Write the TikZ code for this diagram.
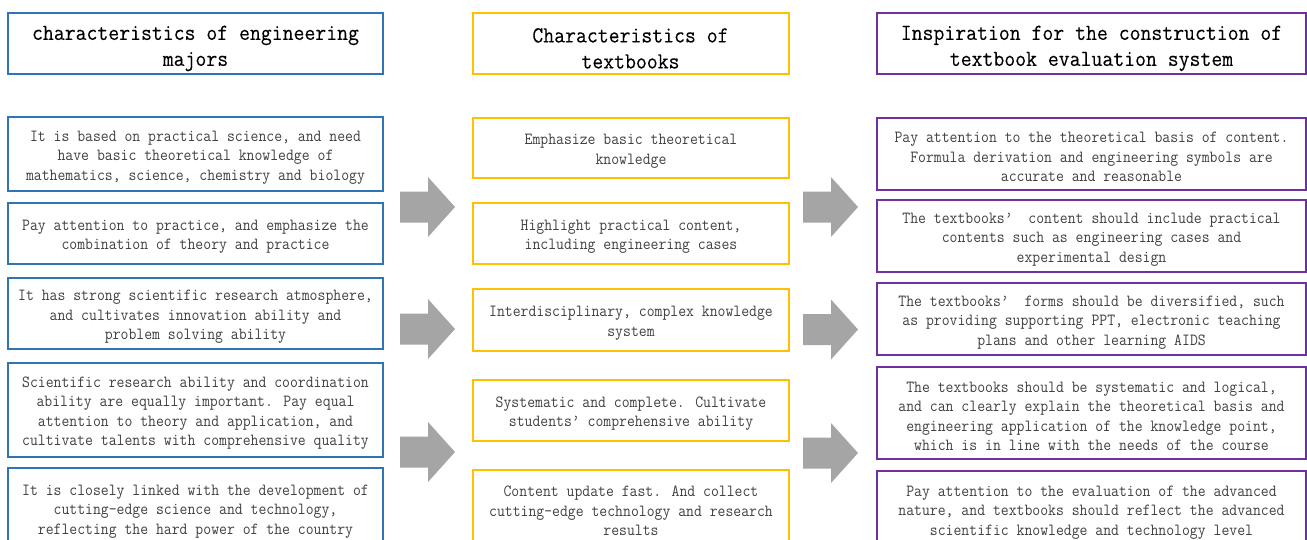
\documentclass[tikz,border=0pt]{standalone}
\usepackage{fontspec}
\newfontfamily\simfont[FakeStretch=0.9]{Latin Modern Mono}
\newfontfamily\simtitle[FakeStretch=0.92,FakeBold=0.15]{Latin Modern Mono}
\definecolor{cblue}{HTML}{2E75B6}
\definecolor{cgold}{HTML}{FFC000}
\definecolor{cpurple}{HTML}{7030A0}
\definecolor{carrow}{HTML}{A5A5A5}
\definecolor{bodytext}{HTML}{404040}
\newcommand\bst{\rule{0pt}{17pt}}
\newcommand\tst{\rule{0pt}{24pt}}
\tikzset{
  box/.style={draw=#1, line width=2pt, rectangle, inner sep=0pt, align=center, fill=white},
  titlebox/.style={box=#1, font=\simtitle\fontsize{23}{26}\selectfont, text=black},
  bodybox/.style={box=#1, font=\simfont\fontsize{17}{19.5}\selectfont, text=bodytext},
  blockarrow/.pic={\fill[carrow] (0,-15.5) -- (28,-15.5) -- (28,-30) -- (55,0) -- (28,30) -- (28,15.5) -- (0,15.5) -- cycle;}
}
\begin{document}
\begin{tikzpicture}[x=1pt,y=-1pt]
\useasboundingbox (0,0) rectangle (1307,539);
\clip (0,0) rectangle (1307,539);
% column 1
\node[titlebox=cblue, minimum width=375, minimum height=61] (t1) at (195.5,43.5) {\tst characteristics of engineering\\majors};
\node[bodybox=cblue, minimum width=375, minimum height=74] (l1) at (195.5,154) {\bst It is based on practical science, and need\\have basic theoretical knowledge of\\mathematics, science, chemistry and biology};
\node[bodybox=cblue, minimum width=375, minimum height=61] (l2) at (195.5,233.5) {\bst Pay attention to practice, and emphasize the\\combination of theory and practice};
\node[bodybox=cblue, minimum width=375, minimum height=71] (l3) at (195.5,313.5) {\bst It has strong scientific research atmosphere,\\and cultivates innovation ability and\\problem solving ability};
\node[bodybox=cblue, minimum width=375, minimum height=94] (l4) at (195.5,410) {\bst Scientific research ability and coordination\\ability are equally important. Pay equal\\attention to theory and application, and\\cultivate talents with comprehensive quality};
\node[bodybox=cblue, minimum width=375, minimum height=80] (l5) at (195.5,508) {\bst It is closely linked with the development of\\cutting-edge science and technology,\\reflecting the hard power of the country};
% column 2
\node[titlebox=cgold, minimum width=316, minimum height=61] (t2) at (630.5,43.5) {\tst Characteristics of\\textbooks};
\node[bodybox=cgold, minimum width=316, minimum height=60] (m1) at (631,148) {\bst Emphasize basic theoretical\\knowledge};
\node[bodybox=cgold, minimum width=316, minimum height=61] (m2) at (631,233.5) {\bst Highlight practical content,\\including engineering cases};
\node[bodybox=cgold, minimum width=316, minimum height=62] (m3) at (631,320) {\bst Interdisciplinary, complex knowledge\\system};
\node[bodybox=cgold, minimum width=316, minimum height=61] (m4) at (631,410.5) {\bst Systematic and complete. Cultivate\\students’ comprehensive ability};
\node[bodybox=cgold, minimum width=316, minimum height=76] (m5) at (631,508) {\bst Content update fast. And collect\\cutting-edge technology and research\\results};
% column 3
\node[titlebox=cpurple, minimum width=429, minimum height=61] (t3) at (1091.5,43.5) {\tst Inspiration for the construction of\\textbook evaluation system};
\node[bodybox=cpurple, minimum width=429, minimum height=72] (r1) at (1091.5,154) {\bst Pay attention to the theoretical basis of content.\\Formula derivation and engineering symbols are\\accurate and reasonable};
\node[bodybox=cpurple, minimum width=429, minimum height=72] (r2) at (1091.5,236) {\bst The textbooks’~ content should include practical\\contents such as engineering cases and\\experimental design};
\node[bodybox=cpurple, minimum width=429, minimum height=72] (r3) at (1091.5,319) {\bst The textbooks’~ forms should be diversified, such\\as providing supporting PPT, electronic teaching\\plans and other learning AIDS};
\node[bodybox=cpurple, minimum width=429, minimum height=92] (r4) at (1091.5,413) {\bst The textbooks should be systematic and logical,\\and can clearly explain the theoretical basis and\\engineering application of the knowledge point,\\which is in line with the needs of the course};
\node[bodybox=cpurple, minimum width=429, minimum height=76] (r5) at (1091.5,509) {\bst Pay attention to the evaluation of the advanced\\nature, and textbooks should reflect the advanced\\scientific knowledge and technology level};
% block arrows
\pic at (400,207) {blockarrow};
\pic at (400,329) {blockarrow};
\pic at (400,452) {blockarrow};
\pic at (803,207) {blockarrow};
\pic at (803,329.5) {blockarrow};
\pic at (803,453) {blockarrow};
\end{tikzpicture}
\end{document}
